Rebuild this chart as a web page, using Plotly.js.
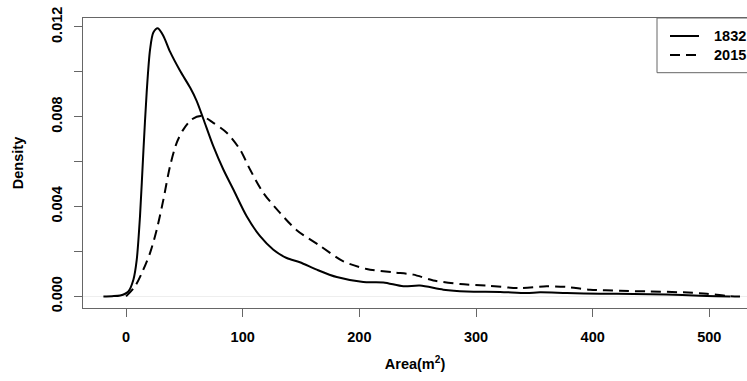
<!DOCTYPE html>
<html>
<head>
<meta charset="utf-8">
<script src="https://cdn.plot.ly/plotly-3.0.1.min.js"></script>
<style>html,body{margin:0;padding:0;background:#fff;}#chart{width:747px;height:381px;}</style>
</head>
<body>
<div id="chart"></div>
<script>
// Kernel density estimates
var area1832 = [-19.4, -12, -5, 2, 6.3, 9.1, 12, 14.9, 17.7, 20.6, 23.4, 27.2, 32, 37.7, 46.3, 54.9, 60.6, 66.3, 74.8, 83.4, 92, 103.4, 114.9, 126.3, 137.7, 149, 163.5, 180.6, 203.4, 220.6, 237.7, 252, 272, 292, 320.6, 343.4, 354.9, 377.8, 406.3, 434.9, 463.5, 492, 506.3, 518];
var dens1832 = [0, 0.00001, 0.00004, 0.00022, 0.00074, 0.0016, 0.0036, 0.0065, 0.0091, 0.011, 0.01175, 0.01194, 0.0116, 0.0109, 0.01005, 0.0093, 0.0087, 0.0079, 0.00669, 0.00565, 0.00476, 0.00357, 0.00268, 0.00208, 0.00171, 0.00152, 0.00119, 0.00086, 0.00064, 0.00062, 0.00045, 0.00048, 0.0003, 0.00022, 0.0002, 0.00015, 0.00018, 0.00015, 0.00012, 0.00011, 0.00008, 0.00003, 0.00001, 0];

var area2015 = [0, 7.7, 13.5, 20.6, 26.3, 32, 37.7, 43.4, 49.1, 56.3, 64.8, 74.8, 86.3, 97.7, 106.3, 117.7, 132, 146.3, 166.3, 186.3, 206.3, 229.1, 246.3, 263.4, 286.3, 309.2, 337.7, 360.6, 377.8, 397.7, 423.4, 449.2, 477.7, 497.8, 514.9, 526.3];
var dens2015 = [0, 0.00045, 0.00104, 0.00194, 0.00297, 0.00431, 0.0058, 0.00684, 0.00743, 0.00788, 0.00803, 0.00773, 0.00729, 0.00654, 0.00565, 0.00461, 0.00372, 0.00295, 0.00225, 0.00156, 0.00122, 0.00107, 0.00097, 0.00071, 0.00055, 0.00048, 0.00037, 0.00045, 0.00042, 0.0003, 0.00025, 0.00022, 0.00018, 0.00012, 0.00002, 0];

var seriesNames = ['1832', '2015'];
var xTicks = [0, 100, 200, 300, 400, 500];
var yTicks = [0, 0.004, 0.008, 0.012];
var yTickText = ['0.000', '0.004', '0.008', '0.012'];
var yMinorTicks = [0.002, 0.006, 0.010];
var xTitle = 'Area(m<sup>2</sup>)';
var yTitle = 'Density';

var FONT = 'Liberation Sans, Arial, Helvetica, sans-serif';
var FS = 14.5;
var AX = '#666666';
function bold() { return {family: FONT, size: FS, color: '#000', weight: 'bold'}; }

var traces = [
  {x: area1832, y: dens1832, mode: 'lines', name: seriesNames[0],
   line: {color: '#000', width: 2, shape: 'spline', smoothing: 0.8}, hoverinfo: 'x+y'},
  {x: area2015, y: dens2015, mode: 'lines', name: seriesNames[1],
   line: {color: '#000', width: 2, dash: '10px,6px', shape: 'spline', smoothing: 0.8}, hoverinfo: 'x+y'}
];

// legend geometry in paper coords
var lgX0 = (657 - 83) / 664, lgLine0 = (670 - 83) / 664, lgLine1 = (699 - 83) / 664, lgText = (712 - 83) / 664;
var row1 = 1 - (36 - 18) / 290, row2 = 1 - (55 - 18) / 290, lgBottom = 1 - (72.7 - 18) / 290;

var layout = {
  width: 747, height: 381,
  margin: {l: 83, r: 0, t: 18, b: 73, pad: 0},
  paper_bgcolor: '#fff', plot_bgcolor: '#fff',
  showlegend: false,
  font: bold(),
  xaxis: {
    range: [-36.9, 532.3], showgrid: false, zeroline: false,
    showline: true, linecolor: AX, linewidth: 1, mirror: true,
    ticks: 'outside', ticklen: 8, tickwidth: 1, tickcolor: AX,
    tickvals: xTicks, ticktext: xTicks.map(String),
    ticklabelstandoff: 8,
    tickfont: bold(),
    title: {text: xTitle, standoff: 14, font: bold()}
  },
  yaxis: {
    range: [-0.000517, 0.0124], showgrid: false,
    zeroline: true, zerolinecolor: '#eeeeee', zerolinewidth: 1,
    showline: true, linecolor: AX, linewidth: 1, mirror: false,
    ticks: 'outside', ticklen: 8, tickwidth: 1, tickcolor: AX,
    tickvals: yTicks, ticktext: yTickText, tickangle: -90,
    minor: {tickvals: yMinorTicks, ticks: 'outside', ticklen: 8, tickwidth: 1, tickcolor: AX, showgrid: false},
    ticklabelstandoff: 6,
    tickfont: bold(),
    title: {text: yTitle, standoff: 22, font: bold()}
  },
  shapes: [
    {type: 'rect', xref: 'paper', yref: 'paper', x0: lgX0, x1: 1.1, y0: lgBottom, y1: 1,
     line: {color: AX, width: 1}, fillcolor: '#fff', layer: 'above'},
    {type: 'line', xref: 'paper', yref: 'paper', x0: lgLine0, x1: lgLine1, y0: row1, y1: row1,
     line: {color: '#000', width: 2}},
    {type: 'line', xref: 'paper', yref: 'paper', x0: lgLine0, x1: lgLine1, y0: row2, y1: row2,
     line: {color: '#000', width: 2, dash: '10px,6px'}}
  ],
  annotations: [
    {xref: 'paper', yref: 'paper', x: lgText, y: row1, xanchor: 'left', yanchor: 'middle',
     text: seriesNames[0], showarrow: false, font: bold()},
    {xref: 'paper', yref: 'paper', x: lgText, y: row2, xanchor: 'left', yanchor: 'middle',
     text: seriesNames[1], showarrow: false, font: bold()}
  ]
};

Plotly.newPlot('chart', traces, layout, {displayModeBar: false, staticPlot: true});
</script>
</body>
</html>
